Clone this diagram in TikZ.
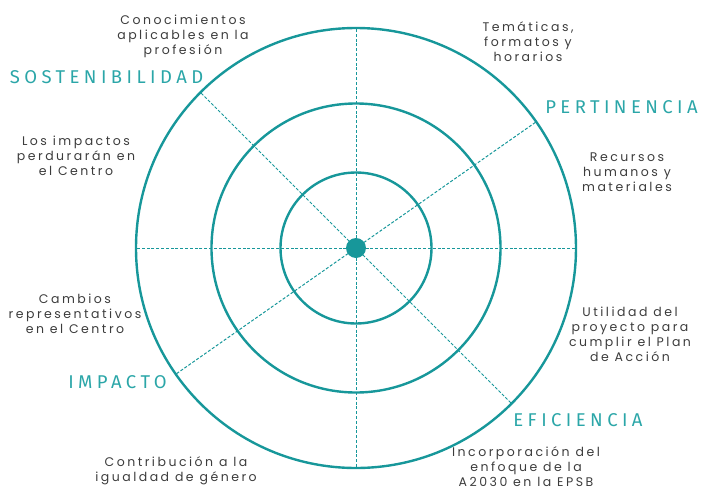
\documentclass[tikz,border=0pt]{standalone}
\usepackage{fontspec}
\setmainfont{Poppins}
\newfontfamily\headfont{Fira Sans}[LetterSpace=24]
\newfontfamily\bodyfont{Poppins}[LetterSpace=20]
\usetikzlibrary{calc,positioning}
\definecolor{tealring}{HTML}{17979A}
\definecolor{tealhead}{HTML}{2BA6A8}
\definecolor{greytext}{HTML}{3C3C3C}

\begin{document}
\begin{tikzpicture}[x=1pt, y=1pt,
    ring/.style={tealring, line width=2.4pt},
    spoke/.style={tealring, line width=1pt, dash pattern=on 3pt off 1.8pt},
    heading/.style={text=tealhead, inner sep=0pt, font=\headfont\fontsize{18.5}{18.5}\selectfont},
    crit/.style={text=greytext, align=center, inner sep=0pt, font=\bodyfont\fontsize{12.5}{15}\selectfont}]

\useasboundingbox (-356,-243) rectangle (345,248);

% Centre of the target
\coordinate (O) at (0,0);

% Dashed spokes
\foreach \a in {0,35,90,135,180,215,270,315} {
    \draw[spoke] (O) -- (\a:220);
}

% Concentric rings
\foreach \r in {75.5,144.5,220} {
    \draw[ring] (O) circle (\r);
}

% Centre dot
\fill[tealring] (O) circle (10);

% Dimension headings
\node[heading] (sost) at (-249.5,171) {SOSTENIBILIDAD};
\node[heading] (pert) at (265.5,141) {PERTINENCIA};
\node[heading] (impa) at (-238.5,-134) {IMPACTO};
\node[heading] (efic) at (222,-172) {EFICIENCIA};

% Criteria around the rings
\node[crit] (conoc) at (-173,212) {Conocimientos\\aplicables en la\\profesión};
\node[crit] (temas) at (172,206) {Temáticas,\\formatos y\\horarios};
\node[crit] (perdura) at (-280,92) {Los impactos\\perdurarán en\\el Centro};
\node[crit] (recursos) at (271,76) {Recursos\\humanos y\\materiales};
\node[crit] (cambios) at (-281,-66) {Cambios\\representativos\\en el Centro};
\node[crit] (utilidad) at (274,-86.5) {Utilidad del\\proyecto para\\cumplir el Plan\\de Acción};
\node[crit] (igualdad) at (-180,-222.5) {Contribución a la\\igualdad de género};
\node[crit] (agenda) at (170,-219) {Incorporación del\\enfoque de la\\A2030 en la EPSB};

\end{tikzpicture}
\end{document}
